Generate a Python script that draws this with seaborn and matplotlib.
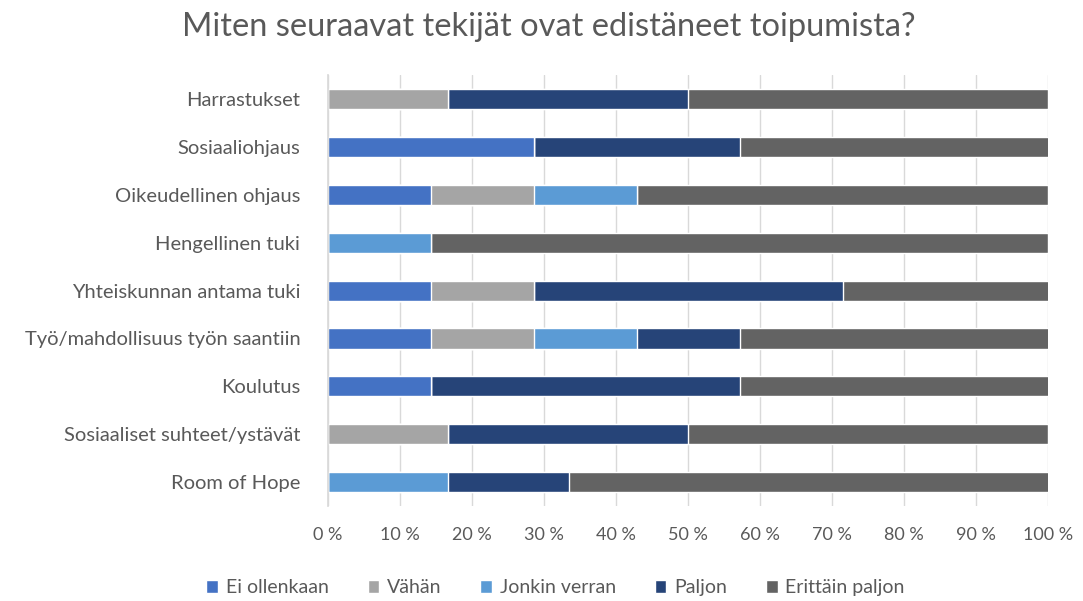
import matplotlib
matplotlib.use("Agg")
import matplotlib.pyplot as plt
import seaborn as sns
import pandas as pd
import numpy as np
from matplotlib.patches import Patch

categories = ["Harrastukset", "Sosiaaliohjaus", "Oikeudellinen ohjaus", "Hengellinen tuki",
              "Yhteiskunnan antama tuki", "Työ/mahdollisuus työn saantiin", "Koulutus",
              "Sosiaaliset suhteet/ystävät", "Room of Hope"]
series_names = ["Ei ollenkaan", "Vähän", "Jonkin verran", "Paljon", "Erittäin paljon"]
ei_ollenkaan = [0, 28.6, 14.3, 0, 14.3, 14.3, 14.3, 0, 0]
vahan = [16.7, 0, 14.3, 0, 14.3, 14.3, 0, 16.7, 0]
jonkin_verran = [0, 0, 14.3, 14.3, 0, 14.3, 0, 0, 16.7]
paljon = [33.3, 28.6, 0, 0, 42.9, 14.3, 42.9, 33.3, 16.7]
erittain_paljon = [50.0, 42.9, 57.1, 85.7, 28.6, 42.9, 42.9, 50.0, 66.7]
colors = ["#4472C4", "#A5A5A5", "#5B9BD5", "#264478", "#636363"]
xticks = [0, 10, 20, 30, 40, 50, 60, 70, 80, 90, 100]

series = [ei_ollenkaan, vahan, jonkin_verran, paljon, erittain_paljon]
cum = np.cumsum(np.array(series), axis=0)

sns.set_theme(style="white")
plt.rcParams['font.family'] = ['Lato', 'DejaVu Sans']
textc = "#595959"

fig = plt.figure(figsize=(10.83, 6.01), dpi=100)
ax = fig.add_axes([0.303, 0.158, 0.665, 0.717])

for i in range(len(series) - 1, -1, -1):
    df = pd.DataFrame({"cat": categories, "val": cum[i]})
    sns.barplot(data=df, y="cat", x="val", order=categories, color=colors[i],
                orient="h", width=0.42, saturation=1, ax=ax, zorder=3)

ax.set_xlim(0, 100)
ax.set_ylim(8.5, -0.5)
ax.set_xticks(xticks)
ax.set_xticklabels([f"{t} %" for t in xticks], color=textc, fontsize=13)
ax.tick_params(axis="y", labelsize=14.5, labelcolor=textc, pad=20, length=0)
ax.tick_params(axis="x", pad=15, length=0)
ax.set_xlabel("")
ax.set_ylabel("")
ax.grid(axis="x", color="#D9D9D9", linewidth=1, zorder=0)
for s in ["top", "right", "bottom"]:
    ax.spines[s].set_visible(False)
ax.spines["left"].set_color("#D9D9D9")
ax.spines["left"].set_zorder(4)

fig.suptitle("Miten seuraavat tekijät ovat edistäneet toipumista?", x=0.507, y=0.98,
             fontsize=23.5, color=textc)

handles = [Patch(facecolor=c, label=n) for c, n in zip(colors, series_names)]
fig.legend(handles=handles, loc="center", bbox_to_anchor=(0.513, 0.022), ncol=5,
           frameon=False, fontsize=14, labelcolor=textc, handlelength=0.6,
           handleheight=0.6, handletextpad=0.4, columnspacing=2.0)

fig.savefig("out.png", dpi=100)
